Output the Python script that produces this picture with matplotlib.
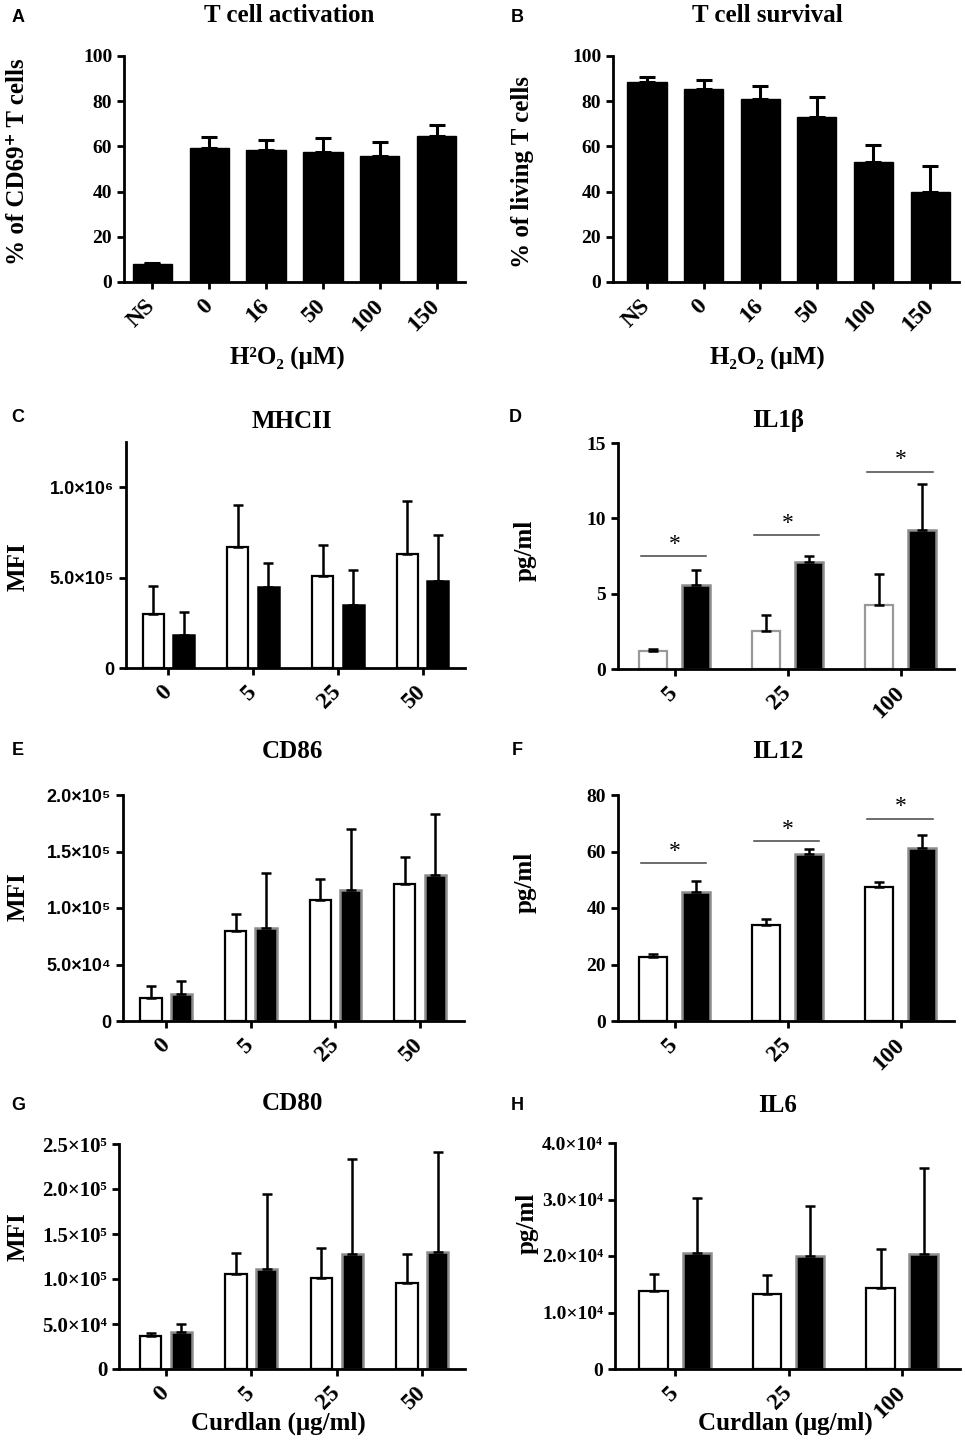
import numpy as np
import matplotlib
matplotlib.use("Agg")
import matplotlib.pyplot as plt

plt.rcParams['font.family'] = ['Liberation Serif', 'DejaVu Serif']
plt.rcParams['font.weight'] = 'bold'

W, H = 965, 1449

# ---- data ----
h2o2_labels = ["NS", "0", "16", "50", "100", "150"]
act_mean = [7.9, 59.5, 58.2, 57.7, 55.7, 64.4]
act_err = [0.5, 4.6, 4.7, 6.1, 6.2, 5.1]
surv_mean = [88.5, 85.4, 80.9, 73.2, 53.0, 39.9]
surv_err = [2.2, 4.1, 5.8, 8.7, 7.5, 11.6]

curd_mfi = ["0", "5", "25", "50"]
curd_cyt = ["5", "25", "100"]

mhc_white = [2.96e5, 6.72e5, 5.11e5, 6.31e5]
mhc_white_err = [1.60e5, 2.30e5, 1.70e5, 2.91e5]
mhc_black = [1.80e5, 4.50e5, 3.48e5, 4.81e5]
mhc_black_err = [1.29e5, 1.30e5, 1.96e5, 2.54e5]

il1_white = [1.17, 2.52, 4.23]
il1_white_err = [0.18, 1.08, 2.05]
il1_black = [5.6, 7.1, 9.2]
il1_black_err = [0.95, 0.4, 3.06]
il1_sig = [7.5, 8.9, 13.1]

cd86_white = [2.0e4, 7.96e4, 10.71e4, 12.12e4]
cd86_white_err = [1.07e4, 1.48e4, 1.86e4, 2.42e4]
cd86_black = [2.36e4, 8.26e4, 11.62e4, 12.95e4]
cd86_black_err = [1.21e4, 4.87e4, 5.40e4, 5.37e4]

il12_white = [22.8, 34.0, 47.4]
il12_white_err = [0.9, 2.2, 1.9]
il12_black = [45.5, 59.0, 61.1]
il12_black_err = [4.1, 1.9, 4.9]
il12_sig = [55.9, 63.6, 71.6]

cd80_white = [3.70e4, 10.52e4, 10.15e4, 9.52e4]
cd80_white_err = [0.30e4, 2.33e4, 3.26e4, 3.29e4]
cd80_black = [4.07e4, 11.11e4, 12.78e4, 12.96e4]
cd80_black_err = [0.93e4, 8.33e4, 10.59e4, 11.11e4]

il6_white = [13850, 13200, 14380]
il6_white_err = [3010, 3430, 6920]
il6_black = [20600, 20060, 20410]
il6_black_err = [9600, 8820, 15210]

pct_ticks = [0, 20, 40, 60, 80, 100]
mhc_ticks = [0, 5e5, 1e6]
mhc_ticklabels = ["0", "5.0×10⁵", "1.0×10⁶"]
il1_ticks = [0, 5, 10, 15]
cd86_ticks = [0, 5e4, 1e5, 1.5e5, 2e5]
cd86_ticklabels = ["0", "5.0×10⁴", "1.0×10⁵", "1.5×10⁵", "2.0×10⁵"]
il12_ticks = [0, 20, 40, 60, 80]
cd80_ticks = [0, 5e4, 1e5, 1.5e5, 2e5, 2.5e5]
cd80_ticklabels = ["0", "5.0×10⁴", "1.0×10⁵", "1.5×10⁵", "2.0×10⁵", "2.5×10⁵"]
il6_ticks = [0, 1e4, 2e4, 3e4, 4e4]
il6_ticklabels = ["0", "1.0×10⁴", "2.0×10⁴", "3.0×10⁴", "4.0×10⁴"]

SANS = ['Liberation Sans', 'DejaVu Sans']
SERIF = ['Liberation Serif', 'DejaVu Serif']
TFS = 18   # titles / axis labels
LFS = 13   # panel letters

fig = plt.figure(figsize=(W / 100, H / 100), dpi=100)


def make_axes(x0, x1, y0, y1):
    return fig.add_axes([x0 / W, 1 - y1 / H, (x1 - x0) / W, (y1 - y0) / H])


def ftext(x, y, s, **kw):
    fig.text(x / W, 1 - y / H, s, **kw)


def style(ax, xlabels, xlim, ylim, yticks, yticklabels=None, yfamily=SERIF, yfs=14):
    for s in ["top", "right"]:
        ax.spines[s].set_visible(False)
    for s in ["left", "bottom"]:
        ax.spines[s].set_linewidth(2)
    ax.tick_params(width=2, length=5, direction='out')
    ax.set_xlim(*xlim)
    ax.set_ylim(*ylim)
    ax.set_xticks(range(len(xlabels)))
    ax.set_xticklabels(xlabels, rotation=45, ha='right', va='center',
                       rotation_mode='anchor', fontsize=17, fontweight='bold',
                       family=SERIF)
    ax.tick_params(axis='x', pad=10)
    ax.set_yticks(yticks)
    if yticklabels is None:
        yticklabels = [str(t) for t in yticks]
    ax.set_yticklabels(yticklabels, fontsize=yfs, fontweight='bold', family=yfamily)


def single(ax, mean, err):
    x = np.arange(len(mean))
    ax.bar(x, mean, width=0.69, color='black', edgecolor='black', zorder=2)
    ax.errorbar(x, mean, yerr=[np.zeros(len(err)), err], fmt='none', ecolor='black',
                elinewidth=2.2, capsize=6, capthick=2.2, zorder=3)


def grouped(ax, w, we, b, be, off, wedge='black', bedge='#8c8c8c'):
    x = np.arange(len(w))
    ax.bar(x - off, w, width=0.25, color='white', edgecolor=wedge, linewidth=1.6, zorder=2)
    ax.bar(x + off, b, width=0.25, color='black', edgecolor=bedge, linewidth=1.8, zorder=2)
    z = np.zeros(len(w))
    ax.errorbar(x - off, w, yerr=[z, we], fmt='none', ecolor='black',
                elinewidth=1.8, capsize=3.6, capthick=1.8, zorder=3)
    ax.errorbar(x + off, b, yerr=[z, be], fmt='none', ecolor='black',
                elinewidth=1.8, capsize=3.6, capthick=1.8, zorder=3)


def sig(ax, heights):
    for i, h in enumerate(heights):
        ax.plot([i - 0.3, i + 0.28], [h, h], color='#444444', lw=1.1, zorder=3)
        ax.annotate("*", (i, h), xytext=(0, 1), textcoords='offset points',
                    ha='center', va='bottom', fontsize=17, fontweight='normal')


# ---- A ----
axA = make_axes(124, 465, 56, 282)
single(axA, act_mean, act_err)
style(axA, h2o2_labels, (-0.5, 5.5), (0, 100), pct_ticks)
ftext(289, 15, "T cell activation", ha='center', va='center', fontsize=TFS, fontweight='bold')
ftext(18, 162, "% of CD69⁺ T cells", ha='center', va='center', rotation=90,
      fontsize=TFS, fontweight='bold')
ftext(287, 358, "H²O₂ (μM)", ha='center', va='center', fontsize=TFS, fontweight='bold')
ftext(18, 18, "A", ha='center', va='center', fontsize=LFS, fontweight='bold', family=SANS)

# ---- B ----
axB = make_axes(613, 959, 56, 282)
single(axB, surv_mean, surv_err)
style(axB, h2o2_labels, (-0.6, 5.51), (0, 100), pct_ticks)
ftext(767, 15, "T cell survival", ha='center', va='center', fontsize=TFS, fontweight='bold')
ftext(523, 172, "% of living T cells", ha='center', va='center', rotation=90,
      fontsize=TFS, fontweight='bold')
ftext(767, 358, "H₂O₂ (μM)", ha='center', va='center', fontsize=TFS, fontweight='bold')
ftext(517, 18, "B", ha='center', va='center', fontsize=LFS, fontweight='bold', family=SANS)

# ---- C ----
axC = make_axes(126, 465, 442, 668)
grouped(axC, mhc_white, mhc_white_err, mhc_black, mhc_black_err, 0.18, bedge='black')
style(axC, curd_mfi, (-0.5, 3.5), (0, 1.25e6), mhc_ticks, mhc_ticklabels, SANS, 13)
ftext(292, 422, "MHCII", ha='center', va='center', fontsize=TFS, fontweight='bold')
ftext(18, 567, "MFI", ha='center', va='center', rotation=90, fontsize=TFS, fontweight='bold')
ftext(18, 417, "C", ha='center', va='center', fontsize=LFS, fontweight='bold', family=SANS)

# ---- D ----
axD = make_axes(618, 954, 443, 669)
grouped(axD, il1_white, il1_white_err, il1_black, il1_black_err, 0.19,
        wedge='#999999', bedge='#8c8c8c')
sig(axD, il1_sig)
style(axD, curd_cyt, (-0.5, 2.47), (0, 15), il1_ticks)
ftext(778, 421, "IL1β", ha='center', va='center', fontsize=TFS, fontweight='bold')
ftext(525, 550, "pg/ml", ha='center', va='center', rotation=90, fontsize=TFS, fontweight='bold')
ftext(515, 417, "D", ha='center', va='center', fontsize=LFS, fontweight='bold', family=SANS)

# ---- E ----
axE = make_axes(123, 464, 795, 1021)
grouped(axE, cd86_white, cd86_white_err, cd86_black, cd86_black_err, 0.18)
style(axE, curd_mfi, (-0.51, 3.52), (0, 2e5), cd86_ticks, cd86_ticklabels, SANS, 13)
ftext(292, 752, "CD86", ha='center', va='center', fontsize=TFS, fontweight='bold')
ftext(18, 897, "MFI", ha='center', va='center', rotation=90, fontsize=TFS, fontweight='bold')
ftext(18, 751, "E", ha='center', va='center', fontsize=LFS, fontweight='bold', family=SANS)

# ---- F ----
axF = make_axes(618, 954, 795, 1021)
grouped(axF, il12_white, il12_white_err, il12_black, il12_black_err, 0.19)
sig(axF, il12_sig)
style(axF, curd_cyt, (-0.5, 2.47), (0, 80), il12_ticks)
ftext(778, 752, "IL12", ha='center', va='center', fontsize=TFS, fontweight='bold')
ftext(525, 882, "pg/ml", ha='center', va='center', rotation=90, fontsize=TFS, fontweight='bold')
ftext(517, 751, "F", ha='center', va='center', fontsize=LFS, fontweight='bold', family=SANS)

# ---- G ----
axG = make_axes(119, 465, 1144, 1369)
grouped(axG, cd80_white, cd80_white_err, cd80_black, cd80_black_err, 0.18)
style(axG, curd_mfi, (-0.55, 3.5), (0, 2.5e5), cd80_ticks, cd80_ticklabels, SERIF, 15)
ftext(292, 1103, "CD80", ha='center', va='center', fontsize=TFS, fontweight='bold')
ftext(18, 1237, "MFI", ha='center', va='center', rotation=90, fontsize=TFS, fontweight='bold')
ftext(278, 1423, "Curdlan (μg/ml)", ha='center', va='center', fontsize=TFS, fontweight='bold')
ftext(18, 1105, "G", ha='center', va='center', fontsize=LFS, fontweight='bold', family=SANS)

# ---- H ----
axH = make_axes(615, 960, 1143, 1369)
grouped(axH, il6_white, il6_white_err, il6_black, il6_black_err, 0.19)
style(axH, curd_cyt, (-0.53, 2.51), (0, 4e4), il6_ticks, il6_ticklabels, SERIF, 14)
ftext(778, 1105, "IL6", ha='center', va='center', fontsize=TFS, fontweight='bold')
ftext(527, 1223, "pg/ml", ha='center', va='center', rotation=90, fontsize=TFS, fontweight='bold')
ftext(785, 1423, "Curdlan (μg/ml)", ha='center', va='center', fontsize=TFS, fontweight='bold')
ftext(517, 1105, "H", ha='center', va='center', fontsize=LFS, fontweight='bold', family=SANS)

fig.savefig("out.png", dpi=100)
